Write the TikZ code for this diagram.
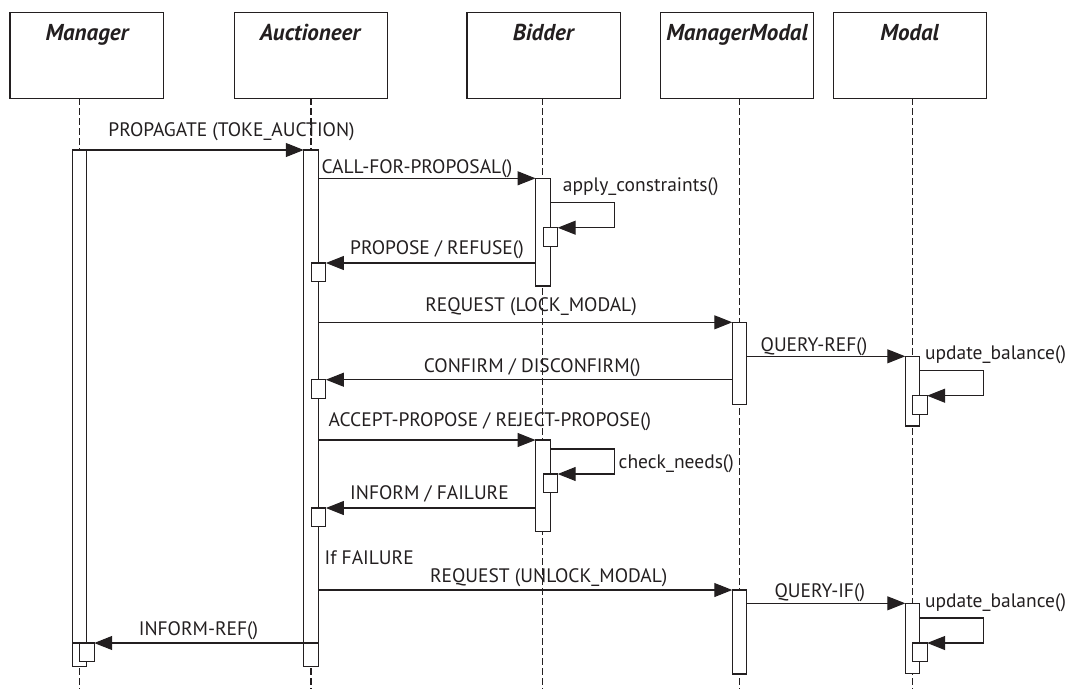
\documentclass[tikz,border=0pt]{standalone}
\usepackage{fontspec}
\setmainfont{PT Sans}
\usetikzlibrary{arrows.meta}
\tikzset{every picture/.style={line width=1.1pt}}
\definecolor{ink}{RGB}{35,31,32}

\begin{document}
\begin{tikzpicture}[x=1pt,y=1pt,yscale=-1,xscale=1,
  headbox/.style={draw=ink, minimum width=153.3pt, minimum height=86pt, inner sep=0pt, outer sep=0pt, anchor=north west},
  headtitle/.style={text=ink, font=\fontsize{23}{26}\selectfont\bfseries\itshape, anchor=base, inner sep=0pt},
  lifeline/.style={draw=ink, dash pattern=on 6.5pt off 3.5pt},
  actbar/.style={draw=ink, fill=white, minimum width=14.5pt, inner sep=0pt, outer sep=0pt, anchor=north},
  actbox/.style={draw=ink, fill=white, minimum width=14.4pt, minimum height=18.5pt, inner sep=0pt, outer sep=0pt, anchor=north west},
  msg/.style={draw=ink, -{Triangle[length=18pt,width=14pt]}},
  msglabel/.style={text=ink, font=\fontsize{19.5}{22}\selectfont, anchor=base, inner sep=0pt}]
\useasboundingbox (0,0) rectangle (1067,689);

%Shape: Rectangle (heads)
\node[headbox] (manhead) at (10,12.3) {};
\node[headbox] (auchead) at (234.3,12.3) {};
\node[headbox] (bidhead) at (467,12.3) {};
\node[headbox] (mmhead) at (660.3,12.3) {};
\node[headbox] (modhead) at (833.3,12.3) {};

% Text Node
\node[headtitle] (mantitle) at (87,40) {Manager};
\node[headtitle] (auctitle) at (310,40) {Auctioneer};
\node[headtitle] (bidtitle) at (543.2,40) {Bidder};
\node[headtitle] (mmtitle) at (737,40) {ManagerModal};
\node[headtitle] (modtitle) at (909.7,40) {Modal};

%Straight Lines (lifelines)
\coordinate (manend) at (79.3,689);
\coordinate (aucend) at (311,689);
\coordinate (bidend) at (542.8,689);
\coordinate (mmend) at (739.5,689);
\coordinate (modend) at (912.5,689);
\draw[lifeline] (manhead.south -| manend) -- (manend);
\draw[lifeline] (auchead.south -| aucend) -- (aucend);
\draw[lifeline] (bidhead.south -| bidend) -- (bidend);
\draw[lifeline] (mmhead.south -| mmend) -- (mmend);
\draw[lifeline] (modhead.south -| modend) -- (modend);

%Shape: Rectangle (activations)
\node[actbar, minimum height=493pt] (manbar) at (79.3,150) {};
\node[actbar, minimum height=23.3pt] (manbarend) at (79.3,643) {};
\node[actbar, minimum height=493pt] (aucbar) at (311,150) {};
\node[actbar, minimum height=23.3pt] (aucbarend) at (311,643) {};
\node[actbar, minimum height=107.7pt] (bidbar1) at (542.8,178.3) {};
\node[actbar, minimum height=91.7pt] (bidbar2) at (542.8,440) {};
\node[actbar, minimum height=82pt] (mmbar1) at (739.5,322.3) {};
\node[actbar, minimum height=84pt] (mmbar2) at (739.5,590) {};
\node[actbar, minimum height=69.7pt] (modbar1) at (912.5,356.3) {};
\node[actbar, minimum height=70pt] (modbar2) at (912.5,603.3) {};

%Shape: Rectangle (small boxes)
\node[actbox] (aucbox1) at (311.5,263) {};
\node[actbox] (aucbox2) at (311.5,379.7) {};
\node[actbox] (aucbox3) at (311.5,508) {};
\node[actbox] (manbox) at (79.8,643) {};
\node[actbox] (bidbox1) at (543.3,227.7) {};
\node[actbox] (bidbox2) at (543.3,474) {};
\node[actbox] (modbox1) at (912.7,395.7) {};
\node[actbox] (modbox2) at (912.7,643) {};

%Straight Lines (messages)
\draw[msg] (manbar.north east) -- (aucbar.north west);
\draw[msg] (aucbar.east |- bidbar1.north) -- (bidbar1.north west);
\draw[msg] (bidbar1.east |- bidbox1.north) ++(0,-25) -| ++(64,25) -- (bidbox1.north east);
\draw[msg] (bidbar1.west |- aucbox1.north) -- (aucbox1.north east);
\draw[msg] (aucbar.east |- mmbar1.north) -- (mmbar1.north west);
\draw[msg] (mmbar1.east |- modbar1.north) -- (modbar1.north west);
\draw[msg] (modbar1.east |- modbox1.north) ++(0,-25) -| ++(64,25) -- (modbox1.north east);
\draw[msg] (mmbar1.west |- aucbox2.north) -- (aucbox2.north east);
\draw[msg] (aucbar.east |- bidbar2.north) -- (bidbar2.north west);
\draw[msg] (bidbar2.east |- bidbox2.north) ++(0,-25) -| ++(64,25) -- (bidbox2.north east);
\draw[msg] (bidbar2.west |- aucbox3.north) -- (aucbox3.north east);
\draw[msg] (aucbar.east |- mmbar2.north) -- (mmbar2.north west);
\draw[msg] (mmbar2.east |- modbar2.north) -- (modbar2.north west);
\draw[msg] (modbar2.east |- modbox2.north) ++(0,-25) -| ++(64,25) -- (modbox2.north east);
\draw[msg] (aucbar.south east) -- (manbox.north east);

% Text Node
\node[msglabel] (lbpropagate) at (231.5,136.7) {PROPAGATE (TOKE\_AUCTION)};
\node[msglabel] (lbcall) at (416.9,173.5) {CALL-FOR-PROPOSAL()};
\node[msglabel] (lbapply) at (640.7,191.5) {apply\_constraints()};
\node[msglabel] (lbpropose) at (437,254.5) {PROPOSE / REFUSE()};
\node[msglabel] (lblock) at (531,311.7) {REQUEST (LOCK\_MODAL)};
\node[msglabel] (lbqueryref) at (814,351) {QUERY-REF()};
\node[msglabel] (lbupdate1) at (995.5,359) {update\_balance()};
\node[msglabel] (lbconfirm) at (532.2,372.3) {CONFIRM / DISCONFIRM()};
\node[msglabel] (lbaccept) at (489.9,426.7) {ACCEPT-PROPOSE / REJECT-PROPOSE()};
\node[msglabel] (lbcheck) at (676.3,468) {check\_needs()};
\node[msglabel] (lbinform) at (429.5,499.7) {INFORM / FAILURE};
\node[msglabel] (lbiffail) at (369.2,564.7) {If FAILURE};
\node[msglabel] (lbunlock) at (548.7,582.3) {REQUEST (UNLOCK\_MODAL)};
\node[msglabel] (lbqueryif) at (819.8,597.3) {QUERY-IF()};
\node[msglabel] (lbupdate2) at (995.5,607.3) {update\_balance()};
\node[msglabel] (lbinformref) at (198.5,635) {INFORM-REF()};

\end{tikzpicture}
\end{document}
